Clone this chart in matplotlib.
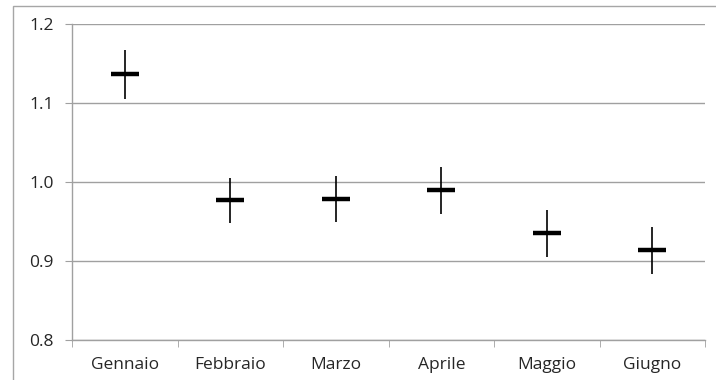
import numpy as np
import matplotlib.pyplot as plt
from matplotlib.patches import Rectangle

mesi   = ['Gennaio', 'Febbraio', 'Marzo', 'Aprile', 'Maggio', 'Giugno']
media  = [1.137, 0.977, 0.978, 0.990, 0.935, 0.914]
alto   = [1.167, 1.005, 1.007, 1.019, 0.965, 0.943]
basso  = [1.105, 0.948, 0.949, 0.960, 0.905, 0.884]
yticks = [0.8, 0.9, 1.0, 1.1, 1.2]

plt.rcParams['font.family'] = ['Open Sans', 'DejaVu Sans']

fig = plt.figure(figsize=(7.16, 3.8), dpi=100)
# chart frame (cut off at the right and bottom)
fig.patches.append(Rectangle((13/716, -0.05), 1.0, 1 - 6/380 + 0.05,
                             transform=fig.transFigure, fill=False,
                             edgecolor='#a6a6a6', linewidth=1.0))

ax = fig.add_axes([72/716, 1 - 340/380, (705 - 72)/716, (340 - 24)/380])
x = np.arange(len(mesi))
m = np.array(media)
err = [m - np.array(basso), np.array(alto) - m]
ax.errorbar(x, m, yerr=err, fmt='none', ecolor='black', elinewidth=1.2, capsize=0, zorder=3)
ax.plot(x, m, linestyle='none', marker='_', markersize=20, markeredgewidth=3.2,
        color='black', zorder=4)

ax.set_xlim(-0.5, len(mesi) - 0.5)
ax.set_ylim(0.8, 1.2)
ax.set_yticks(yticks)
ax.set_yticklabels(['%.1f' % v for v in yticks])
ax.set_xticks(x)
ax.set_xticklabels(mesi)
ax.set_xticks(np.arange(-0.5, len(mesi)), minor=True)
ax.tick_params(axis='x', which='major', length=0, pad=12, labelsize=12.5, colors='#262626')
ax.tick_params(axis='x', which='minor', length=5, color='#a0a0a0', direction='out')
ax.tick_params(axis='y', length=5, color='#a0a0a0', pad=8, labelsize=12.5, labelcolor='#262626')

ax.grid(axis='y', color='#a0a0a0', linewidth=1.0)
ax.set_axisbelow(True)
for s in ['top', 'right']:
    ax.spines[s].set_visible(False)
for s in ['left', 'bottom']:
    ax.spines[s].set_color('#a0a0a0')
    ax.spines[s].set_linewidth(1.0)

fig.savefig('out.png', dpi=100)
